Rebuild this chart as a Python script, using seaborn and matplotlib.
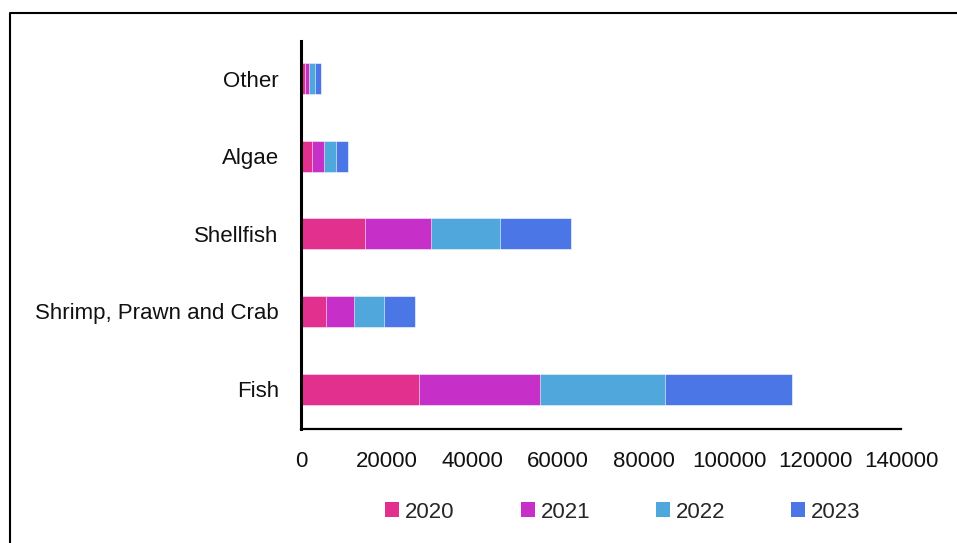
import matplotlib
matplotlib.use("Agg")
import matplotlib.pyplot as plt
from matplotlib.lines import Line2D
from matplotlib.patches import Patch
import seaborn as sns
import pandas as pd
import numpy as np

# Aquaculture production by category and year
categories = ["Other", "Algae", "Shellfish", "Shrimp, Prawn and Crab", "Fish"]
years = ["2020", "2021", "2022", "2023"]
v2020 = [1000, 2640, 14860, 5900, 27600]
v2021 = [930, 2730, 15540, 6530, 28160]
v2022 = [1260, 2730, 15960, 6860, 29090]
v2023 = [1400, 2940, 16640, 7300, 29770]
colors = ["#E2308E", "#C730C8", "#4FA7DC", "#4A76E6"]
xticks = [0, 20000, 40000, 60000, 80000, 100000, 120000, 140000]

sns.set_theme(style="white")
plt.rcParams["font.family"] = ["Liberation Sans", "DejaVu Sans"]

df = pd.DataFrame({"category": categories, "2020": v2020, "2021": v2021,
                   "2022": v2022, "2023": v2023})
# running totals so each year sits on top of the previous ones
cum = df[years].cumsum(axis=1)
cum["category"] = df["category"]

fig = plt.figure(figsize=(9.57, 5.43), dpi=100)
ax = fig.add_axes([301 / 957, 114 / 543, 600 / 957, 388 / 543])

for i in reversed(range(len(years))):
    sns.barplot(data=cum, x=years[i], y="category", order=categories,
                color=colors[i], saturation=1, width=0.4, errorbar=None,
                orient="h", ax=ax, edgecolor="white", linewidth=0.4)

ax.set_xlim(0, 140000)
ax.set_ylim(4.515, -0.485)
ax.set_xticks(xticks)
ax.set_xticklabels([str(t) for t in xticks])
ax.set_xlabel("")
ax.set_ylabel("")
ax.tick_params(axis="x", length=0, pad=16, labelsize=16, colors="#111111")
ax.tick_params(axis="y", length=0, pad=16, labelsize=16, colors="#111111")

for side in ["top", "right"]:
    ax.spines[side].set_visible(False)
ax.spines["left"].set_color("black")
ax.spines["left"].set_linewidth(2.2)
ax.spines["bottom"].set_color("black")
ax.spines["bottom"].set_linewidth(1.6)

handles = [Patch(facecolor=c, edgecolor="none") for c in colors]
fig.legend(handles, years, loc="center", bbox_to_anchor=(623 / 957, 1 - 512 / 543),
           ncol=4, frameon=False, fontsize=16, handlelength=0.63, handleheight=0.63,
           handletextpad=0.27, columnspacing=2.96)

# outer frame
fx = 9.5 / 957
fy = 1 - 12.5 / 543
fig.add_artist(Line2D([fx, fx, 1.0], [0.0, fy, fy], transform=fig.transFigure,
                      color="black", linewidth=1.5))

fig.savefig("out.png", dpi=100)
